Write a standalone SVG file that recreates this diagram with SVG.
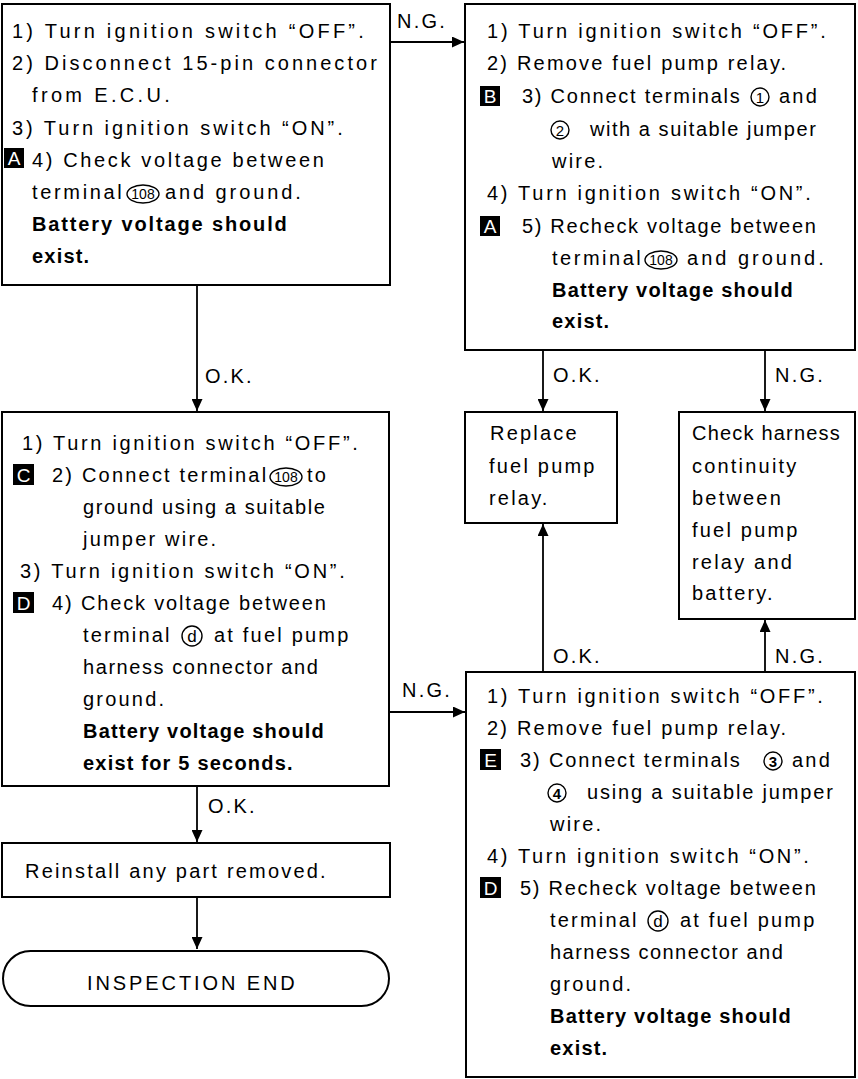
<svg xmlns="http://www.w3.org/2000/svg" width="858" height="1079" viewBox="0 0 858 1079">
<style>
.t{font-family:"Liberation Sans",Arial,Helvetica,sans-serif;font-size:20px;letter-spacing:2.2px;fill:#000}
.b{font-weight:bold;letter-spacing:1.2px}
.box{fill:#fff;stroke:#000;stroke-width:2}
.con{stroke:#000;stroke-width:1.8;fill:none}
.sq{fill:#000}
.sqt{font-family:"Liberation Sans",Arial,sans-serif;font-size:19px;fill:#fff;text-anchor:middle}
.c{fill:none;stroke:#000;stroke-width:1.4}
.ct{font-family:"Liberation Sans",Arial,sans-serif;font-size:14px;fill:#000;text-anchor:middle}
.cn{font-family:"Liberation Sans",Arial,sans-serif;font-size:15px;fill:#000;text-anchor:middle}
.cd{font-family:"Liberation Sans",Arial,sans-serif;font-size:17px;fill:#000;text-anchor:middle}
</style>
<defs>
<marker id="ah" markerUnits="userSpaceOnUse" markerWidth="13" markerHeight="11" refX="12" refY="5.5" orient="auto">
<path d="M0,0 L12,5.5 L0,11 z" fill="#000"/>
</marker>
</defs>

<g id="connectors">
<path class="con" d="M390,42 H464" marker-end="url(#ah)"/>
<path class="con" d="M197,285 V411" marker-end="url(#ah)"/>
<path class="con" d="M543,350 V411" marker-end="url(#ah)"/>
<path class="con" d="M765,350 V411" marker-end="url(#ah)"/>
<path class="con" d="M389,712 H465" marker-end="url(#ah)"/>
<path class="con" d="M543,672 V524" marker-end="url(#ah)"/>
<path class="con" d="M765,672 V620" marker-end="url(#ah)"/>
<path class="con" d="M197,786 V842" marker-end="url(#ah)"/>
<path class="con" d="M197,897 V949" marker-end="url(#ah)"/>
<text class="t" x="397" y="28">N.G.</text>
<text class="t" x="205" y="383">O.K.</text>
<text class="t" x="553" y="382">O.K.</text>
<text class="t" x="775" y="382">N.G.</text>
<text class="t" x="402" y="697">N.G.</text>
<text class="t" x="553" y="663">O.K.</text>
<text class="t" x="775" y="663">N.G.</text>
<text class="t" x="208" y="813">O.K.</text>
</g>

<g id="box1">
<rect class="box" x="2" y="4" width="388" height="281"/>
<text class="t" x="12" y="38" textLength="354" lengthAdjust="spacing">1) Turn ignition switch “OFF”.</text>
<text class="t" x="12" y="70" textLength="367" lengthAdjust="spacing">2) Disconnect 15-pin connector</text>
<text class="t" x="32" y="102" textLength="140" lengthAdjust="spacing">from E.C.U.</text>
<text class="t" x="12" y="135" textLength="333" lengthAdjust="spacing">3) Turn ignition switch “ON”.</text>
<rect class="sq" x="4" y="148" width="20" height="20"/>
<text class="sqt" x="14" y="165">A</text>
<text class="t" x="32" y="167" textLength="294" lengthAdjust="spacing">4) Check voltage between</text>
<text class="t" x="32" y="199" textLength="92" lengthAdjust="spacing">terminal</text>
<ellipse class="c" cx="143" cy="194" rx="16" ry="9"/>
<text class="ct" x="143" y="199">108</text>
<text class="t" x="165" y="199" textLength="138" lengthAdjust="spacing">and ground.</text>
<text class="t b" x="32" y="231" textLength="256" lengthAdjust="spacing">Battery voltage should</text>
<text class="t b" x="32" y="263">exist.</text>
</g>

<g id="box2">
<rect class="box" x="465" y="4" width="390" height="346"/>
<text class="t" x="487" y="38" textLength="341" lengthAdjust="spacing">1) Turn ignition switch “OFF”.</text>
<text class="t" x="487" y="70">2) Remove fuel pump relay.</text>
<rect class="sq" x="480" y="86" width="20" height="20"/>
<text class="sqt" x="490" y="103">B</text>
<text class="t" x="522" y="103" textLength="220" lengthAdjust="spacing">3) Connect terminals</text>
<circle class="c" cx="760" cy="97" r="9"/>
<text class="cn" x="760" y="102.5">1</text>
<text class="t" x="779" y="103">and</text>
<circle class="c" cx="560" cy="130" r="9"/>
<text class="cn" x="560" y="135.5">2</text>
<text class="t" x="590" y="136" textLength="228" lengthAdjust="spacing">with a suitable jumper</text>
<text class="t" x="552" y="168">wire.</text>
<text class="t" x="487" y="200" textLength="326" lengthAdjust="spacing">4) Turn ignition switch “ON”.</text>
<rect class="sq" x="480" y="216" width="20" height="20"/>
<text class="sqt" x="490" y="233">A</text>
<text class="t" x="522" y="233" textLength="296" lengthAdjust="spacing">5) Recheck voltage between</text>
<text class="t" x="552" y="265" textLength="91" lengthAdjust="spacing">terminal</text>
<ellipse class="c" cx="661" cy="260" rx="16" ry="9"/>
<text class="ct" x="661" y="265">108</text>
<text class="t" x="687" y="265" textLength="139" lengthAdjust="spacing">and ground.</text>
<text class="t b" x="552" y="297">Battery voltage should</text>
<text class="t b" x="552" y="328">exist.</text>
</g>

<g id="box3">
<rect class="box" x="2" y="412" width="387" height="374"/>
<text class="t" x="22" y="450" textLength="338" lengthAdjust="spacing">1) Turn ignition switch “OFF”.</text>
<rect class="sq" x="13" y="464" width="21" height="21"/>
<text class="sqt" x="23.5" y="482">C</text>
<text class="t" x="52" y="482">2) Connect terminal</text>
<ellipse class="c" cx="286" cy="477" rx="16" ry="9"/>
<text class="ct" x="286" y="482">108</text>
<text class="t" x="307" y="482">to</text>
<text class="t" x="83" y="514" textLength="244" lengthAdjust="spacing">ground using a suitable</text>
<text class="t" x="83" y="546">jumper wire.</text>
<text class="t" x="20" y="578" textLength="327" lengthAdjust="spacing">3) Turn ignition switch “ON”.</text>
<rect class="sq" x="13" y="592" width="21" height="21"/>
<text class="sqt" x="23.5" y="610">D</text>
<text class="t" x="52" y="610" textLength="276" lengthAdjust="spacing">4) Check voltage between</text>
<text class="t" x="83" y="642">terminal</text>
<circle class="c" cx="192" cy="636" r="10"/>
<text class="cd" x="192" y="642">d</text>
<text class="t" x="214" y="642">at fuel pump</text>
<text class="t" x="83" y="674" textLength="237" lengthAdjust="spacing">harness connector and</text>
<text class="t" x="83" y="706">ground.</text>
<text class="t b" x="83" y="738">Battery voltage should</text>
<text class="t b" x="83" y="770">exist for 5 seconds.</text>
</g>

<g id="replace">
<rect class="box" x="465" y="412" width="152" height="111"/>
<text class="t" x="490" y="440">Replace</text>
<text class="t" x="489" y="473">fuel pump</text>
<text class="t" x="489" y="505">relay.</text>
</g>

<g id="check">
<rect class="box" x="679" y="412" width="176" height="207"/>
<text class="t" x="692" y="440" textLength="150" lengthAdjust="spacing">Check harness</text>
<text class="t" x="692" y="473">continuity</text>
<text class="t" x="692" y="505">between</text>
<text class="t" x="692" y="537">fuel pump</text>
<text class="t" x="692" y="569">relay and</text>
<text class="t" x="692" y="600">battery.</text>
</g>

<g id="box5">
<rect class="box" x="466" y="672" width="389" height="405"/>
<text class="t" x="487" y="703" textLength="338" lengthAdjust="spacing">1) Turn ignition switch “OFF”.</text>
<text class="t" x="487" y="735">2) Remove fuel pump relay.</text>
<rect class="sq" x="480" y="749" width="21" height="21"/>
<text class="sqt" x="490.5" y="767">E</text>
<text class="t" x="520" y="767" textLength="222" lengthAdjust="spacing">3) Connect terminals</text>
<circle class="c" cx="773" cy="761" r="9"/>
<text class="cn" x="773" y="766.5" font-weight="bold">3</text>
<text class="t" x="792" y="767">and</text>
<circle class="c" cx="557" cy="793" r="9"/>
<text class="cn" x="557" y="798.5" font-weight="bold">4</text>
<text class="t" x="587" y="799" textLength="248" lengthAdjust="spacing">using a suitable jumper</text>
<text class="t" x="550" y="831">wire.</text>
<text class="t" x="487" y="863" textLength="324" lengthAdjust="spacing">4) Turn ignition switch “ON”.</text>
<rect class="sq" x="480" y="877" width="21" height="21"/>
<text class="sqt" x="490.5" y="895">D</text>
<text class="t" x="520" y="895" textLength="298" lengthAdjust="spacing">5) Recheck voltage between</text>
<text class="t" x="550" y="927">terminal</text>
<circle class="c" cx="658" cy="921" r="10"/>
<text class="cd" x="658" y="927">d</text>
<text class="t" x="680" y="927">at fuel pump</text>
<text class="t" x="550" y="959" textLength="235" lengthAdjust="spacing">harness connector and</text>
<text class="t" x="550" y="991">ground.</text>
<text class="t b" x="550" y="1023">Battery voltage should</text>
<text class="t b" x="550" y="1055">exist.</text>
</g>

<g id="reinstall">
<rect class="box" x="2" y="843" width="388" height="54"/>
<text class="t" x="25" y="878">Reinstall any part removed.</text>
</g>

<g id="end">
<rect class="box" x="3" y="951" width="386" height="55" rx="27.5"/>
<text class="t" x="87" y="990" textLength="210" lengthAdjust="spacing">INSPECTION END</text>
</g>
</svg>
